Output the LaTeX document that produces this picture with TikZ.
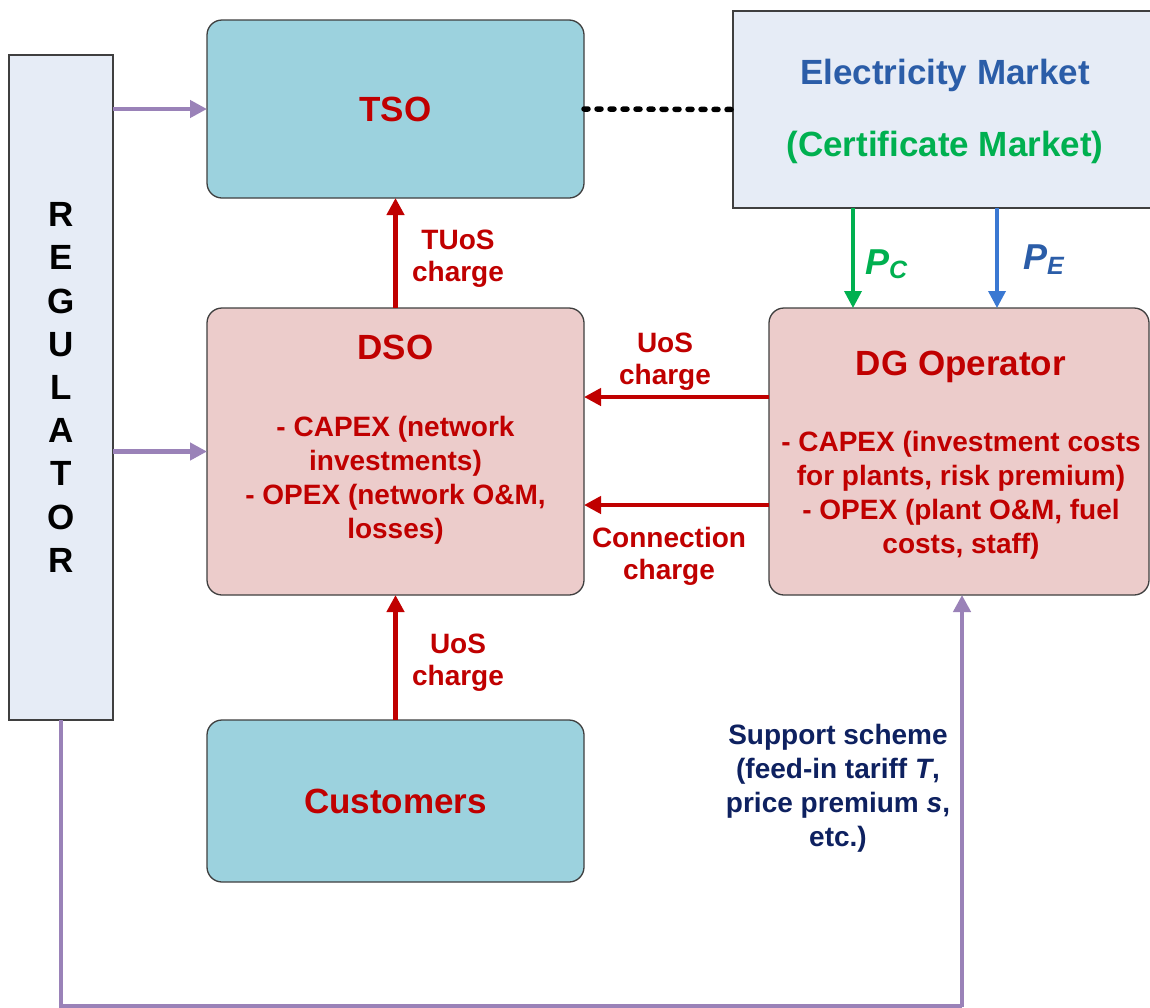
\documentclass[tikz,border=0pt]{standalone}
\usepackage{fontspec}
\setmainfont{Liberation Sans}
\usetikzlibrary{arrows.meta,calc}
\definecolor{tealfill}{HTML}{9CD2DE}
\definecolor{pinkfill}{HTML}{ECCCCB}
\definecolor{palefill}{HTML}{E6ECF6}
\definecolor{darkred}{HTML}{C00000}
\definecolor{mktblue}{HTML}{2B5DA8}
\definecolor{mktgreen}{HTML}{00B050}
\definecolor{arrblue}{HTML}{3A78D2}
\definecolor{regpurple}{HTML}{9A82B8}
\definecolor{navy}{HTML}{0E2160}
\definecolor{edgegray}{HTML}{3F3F3F}
\begin{document}
\begin{tikzpicture}[x=1pt,y=-1pt,
  box/.style={draw=edgegray,line width=1.3pt,inner sep=0pt,outer sep=0pt},
  tealbox/.style={box,fill=tealfill,rounded corners=15pt},
  pinkbox/.style={box,fill=pinkfill,rounded corners=15pt},
  palebox/.style={box,fill=palefill},
  titletext/.style={font=\fontsize{35}{42}\selectfont\bfseries,text=darkred,inner sep=0pt},
  bodytext/.style={font=\fontsize{28}{34}\selectfont\bfseries,text=darkred,align=center,inner sep=0pt},
  lbltext/.style={font=\fontsize{28}{32}\selectfont\bfseries,text=darkred,align=center,inner sep=0pt},
  purparrow/.style={draw=regpurple,line width=4.5pt,-{Triangle[length=17pt,width=17pt]}},
  purpline/.style={draw=regpurple,line width=4.5pt},
  redarrow/.style={draw=darkred,line width=4.5pt,-{Triangle[length=17pt,width=17pt]}},
  greenarrow/.style={draw=mktgreen,line width=3.5pt,-{Triangle[length=17pt,width=17pt]}},
  bluearrow/.style={draw=arrblue,line width=3.5pt,-{Triangle[length=17pt,width=17pt]}},
  dotline/.style={draw=black,line width=5.5pt,line cap=round,dash pattern=on 4pt off 9pt}
]
\useasboundingbox (0,0) rectangle (1150,1007);
\clip (0,0) rectangle (1150,1007);
\fill[white] (0,0) rectangle (1150,1007);

% boxes
\node[palebox,minimum width=104pt,minimum height=665pt,
      font=\fontsize{35}{43.2}\selectfont\bfseries,align=center,text=black] (reg) at (61,387.5)
      {R\\E\\G\\U\\L\\A\\T\\O\\R};
\node[tealbox,minimum width=377pt,minimum height=178pt,
      font=\fontsize{35}{42}\selectfont\bfseries,text=darkred] (tso) at (395.5,109) {TSO};
\node[palebox,minimum width=424pt,minimum height=197pt] (mkt) at (945,109.5) {};
\node[pinkbox,minimum width=377pt,minimum height=287pt] (dso) at (395.5,451.5) {};
\node[pinkbox,minimum width=380pt,minimum height=287pt] (dg) at (959,451.5) {};
\node[tealbox,minimum width=377pt,minimum height=162pt,
      font=\fontsize{35}{42}\selectfont\bfseries,text=darkred] (cust) at (395.5,801) {Customers};

% texts inside boxes
\node[font=\fontsize{35}{42}\selectfont\bfseries,text=mktblue,inner sep=0pt] (mkt1) at (945,75) {Electricity Market};
\node[font=\fontsize{35}{42}\selectfont\bfseries,text=mktgreen,inner sep=0pt] (mkt2) at (945,147.5) {(Certificate Market)};
\node[titletext] (dsotitle) at (395.5,347) {DSO};
\node[bodytext] (dsobody) at (395.5,480) {- CAPEX (network\\investments)\\- OPEX (network O\&M,\\losses)};
\node[titletext] (dgtitle) at (961,367) {DG Operator};
\node[bodytext] (dgbody) at (961,495) {- CAPEX (investment costs\\for plants, risk premium)\\- OPEX (plant O\&M, fuel\\costs, staff)};

% connectors
\draw[purparrow] (tso.west -| reg.east) -- (tso.west);
\draw[purparrow] (dso.west -| reg.east) -- (dso.west);
\draw[dotline] (tso.east) -- (mkt.west);
\draw[redarrow] (dso.north) -- (tso.south);
\draw[redarrow] (cust.north) -- (dso.south);
\draw[redarrow] ([yshift=54.5pt]dg.west) -- ([yshift=54.5pt]dso.east);
\draw[redarrow] ([yshift=-53.5pt]dg.west) -- ([yshift=-53.5pt]dso.east);
\draw[greenarrow] ([xshift=-92pt]mkt.south) -- ([xshift=-92pt]mkt.south |- dg.north);
\draw[bluearrow] ([xshift=52pt]mkt.south) -- ([xshift=52pt]mkt.south |- dg.north);
\coordinate (c1) at (61,1006.5);
\coordinate (c2) at (962,1006.5);
\draw[purpline] (reg.south) -- (c1) -- (c2);
\draw[purparrow] (c2) -- (c2 |- dg.south);

% labels
\node[lbltext] (l1) at (458,259) {TUoS\\charge};
\node[lbltext] (l2) at (665,362) {UoS\\charge};
\node[lbltext] (l3) at (669,556) {Connection\\charge};
\node[lbltext] (l4) at (458,663) {UoS\\charge};
\node[font=\fontsize{28}{34}\selectfont\bfseries,text=navy,align=center,inner sep=0pt] (sup) at (838,788.5)
  {Support scheme\\(feed-in tariff \textit{T},\\price premium \textit{s},\\etc.)};
\node[anchor=base west,inner sep=0pt,text=mktgreen,font=\bfseries\itshape] (pc) at (865,274)
  {\fontsize{36}{40}\selectfont P\raisebox{-4pt}{\fontsize{25}{28}\selectfont C}};
\node[anchor=base west,inner sep=0pt,text=mktblue,font=\bfseries\itshape] (pe) at (1023,269)
  {\fontsize{36}{40}\selectfont P\raisebox{-5pt}{\fontsize{25}{28}\selectfont E}};
\end{tikzpicture}
\end{document}
